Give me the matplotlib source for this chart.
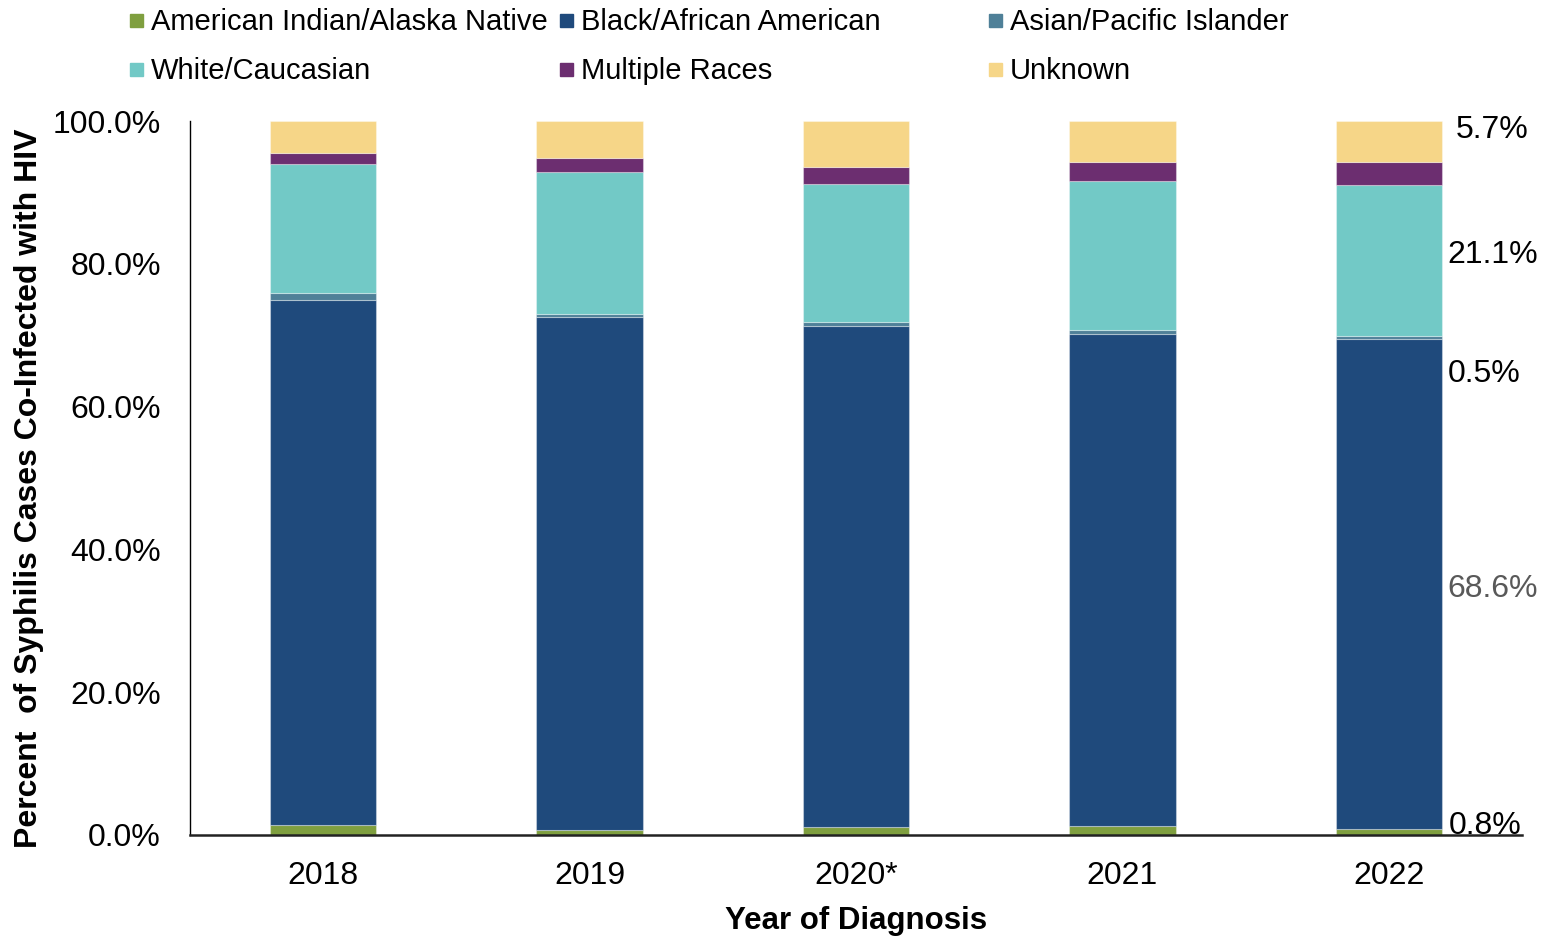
import matplotlib
matplotlib.use("Agg")
import matplotlib.pyplot as plt
from matplotlib.patches import Rectangle
import numpy as np

plt.rcParams['font.family'] = ['Liberation Sans', 'DejaVu Sans']

years = ["2018", "2019", "2020*", "2021", "2022"]
series_names = ["American Indian/Alaska Native", "Black/African American",
                "Asian/Pacific Islander", "White/Caucasian", "Multiple Races", "Unknown"]
aian = [1.4, 0.7, 1.1, 1.2, 0.8]
black = [73.6, 71.9, 70.2, 68.9, 68.6]
asian = [0.9, 0.3, 0.6, 0.6, 0.5]
white = [18.1, 20.0, 19.3, 20.9, 21.1]
multiple = [1.5, 1.9, 2.3, 2.7, 3.3]
unknown = [4.5, 5.2, 6.5, 5.7, 5.7]
yticks = [0, 20, 40, 60, 80, 100]

colors = ["#7F9F3F", "#1F4A7C", "#4F8098", "#72C9C6", "#6C2E70", "#F6D688"]
series = [aian, black, asian, white, multiple, unknown]

fig = plt.figure(figsize=(15.54, 9.36), dpi=100)
ax = fig.add_axes([190/1554, 1-835/936, (1522-190)/1554, (835-121)/936])

x = np.arange(len(years))
bottom = np.zeros(len(years))
for vals, col in zip(series, colors):
    ax.bar(x, vals, bottom=bottom, width=0.4, color=col,
           edgecolor=(1, 1, 1, 0.35), linewidth=0.8)
    bottom += np.array(vals)

ax.set_xlim(-0.5, 4.5)
ax.set_ylim(0, 100)
ax.set_xticks(x)
ax.set_xticklabels(years, fontsize=23)
ax.set_yticks(yticks)
ax.set_yticklabels([f"{v:.1f}%" for v in yticks], fontsize=23)
ax.tick_params(axis='both', length=0)
ax.tick_params(axis='y', pad=21)
ax.tick_params(axis='x', pad=18.5)
for s in ['top', 'right']:
    ax.spines[s].set_visible(False)
ax.spines['left'].set_linewidth(1.0)
ax.spines['bottom'].set_linewidth(1.8)
ax.spines['bottom'].set_color('#222222')

ax.set_xlabel("Year of Diagnosis", fontsize=22.5, fontweight='bold', labelpad=11)
ax.set_ylabel("Percent  of Syphilis Cases Co-Infected with HIV", fontsize=23,
              fontweight='bold')
ax.yaxis.set_label_coords(-0.1096, 0.486)

# value labels for 2022 (last bar)
last = len(years) - 1
label_items = [
    (unknown[last], 98.7, 4.25, 'black'),
    (white[last], 81.3, 4.22, 'black'),
    (asian[last], 64.5, 4.22, 'black'),
    (black[last], 34.5, 4.22, '#595959'),
    (aian[last], 1.3, 4.225, 'black'),
]
for val, ypos, xpos, c in label_items:
    ax.text(xpos, ypos, f"{val:.1f}%", fontsize=23, color=c,
            ha='left', va='center', clip_on=False)

# legend (Excel-style equal columns)
leg_pos = [(130, 20), (560, 20), (989, 20), (130, 69), (560, 69), (989, 69)]
W, H = 1554, 936
for (px, py), name, col in zip(leg_pos, series_names, colors):
    sq = 13
    fig.add_artist(Rectangle((px/W, 1-(py+sq/2)/H), sq/W, sq/H,
                             transform=fig.transFigure, color=col))
    fig.text((px+21)/W, 1-(py+2)/H, name, fontsize=21, ha='left', va='center')

fig.savefig("out.png", dpi=100)
